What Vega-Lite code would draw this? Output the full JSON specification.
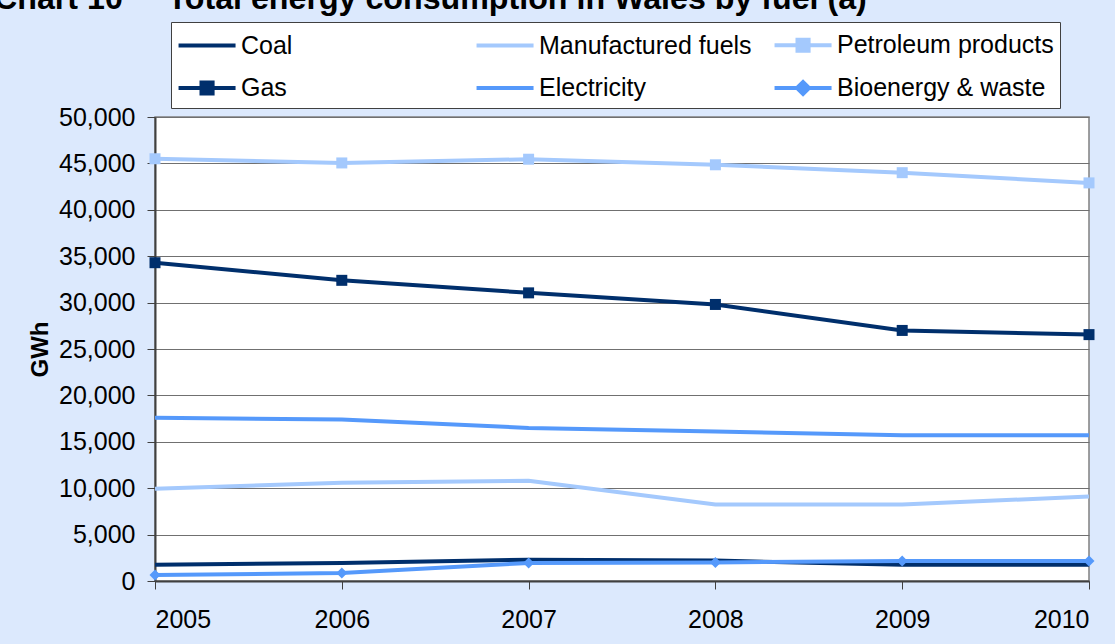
{
  "$schema": "https://vega.github.io/schema/vega-lite/v6.json",
  "width": 934,
  "height": 464,
  "autosize": {"type": "none"},
  "padding": {"left": 155, "top": 117, "right": 26, "bottom": 63},
  "background": "#dce9fd",
  "title": {
    "text": "Chart 10\u00a0\u00a0\u00a0\u00a0\u00a0Total energy consumption in Wales by fuel (a)",
    "orient": "top",
    "anchor": "start",
    "frame": "group",
    "font": "Liberation Sans",
    "fontSize": 32.2,
    "fontWeight": "bold",
    "color": "#000000",
    "baseline": "alphabetic",
    "dx": -161,
    "dy": 34,
    "offset": 14
  },
  "config": {
    "view": {"stroke": "#808080", "strokeWidth": 1.5, "fill": "#ffffff"},
    "axis": {
      "labelFont": "Liberation Sans",
      "labelFontSize": 25,
      "labelColor": "#000000",
      "titleFont": "Liberation Sans",
      "titleColor": "#000000",
      "tickColor": "#404040",
      "tickSize": 8,
      "domainColor": "#404040",
      "domainWidth": 2
    }
  },
  "data": {
    "values": [
      {"year": 2005, "fuel": "Coal", "gwh": 1750},
      {"year": 2006, "fuel": "Coal", "gwh": 1950},
      {"year": 2007, "fuel": "Coal", "gwh": 2300},
      {"year": 2008, "fuel": "Coal", "gwh": 2200},
      {"year": 2009, "fuel": "Coal", "gwh": 1750},
      {"year": 2010, "fuel": "Coal", "gwh": 1750},
      {"year": 2005, "fuel": "Manufactured fuels", "gwh": 9950},
      {"year": 2006, "fuel": "Manufactured fuels", "gwh": 10600},
      {"year": 2007, "fuel": "Manufactured fuels", "gwh": 10800},
      {"year": 2008, "fuel": "Manufactured fuels", "gwh": 8250},
      {"year": 2009, "fuel": "Manufactured fuels", "gwh": 8250},
      {"year": 2010, "fuel": "Manufactured fuels", "gwh": 9100},
      {"year": 2005, "fuel": "Petroleum products", "gwh": 45500},
      {"year": 2006, "fuel": "Petroleum products", "gwh": 45050},
      {"year": 2007, "fuel": "Petroleum products", "gwh": 45450},
      {"year": 2008, "fuel": "Petroleum products", "gwh": 44850},
      {"year": 2009, "fuel": "Petroleum products", "gwh": 44000},
      {"year": 2010, "fuel": "Petroleum products", "gwh": 42900},
      {"year": 2005, "fuel": "Gas", "gwh": 34300},
      {"year": 2006, "fuel": "Gas", "gwh": 32400},
      {"year": 2007, "fuel": "Gas", "gwh": 31050},
      {"year": 2008, "fuel": "Gas", "gwh": 29800},
      {"year": 2009, "fuel": "Gas", "gwh": 27000},
      {"year": 2010, "fuel": "Gas", "gwh": 26550},
      {"year": 2005, "fuel": "Electricity", "gwh": 17600},
      {"year": 2006, "fuel": "Electricity", "gwh": 17400},
      {"year": 2007, "fuel": "Electricity", "gwh": 16500},
      {"year": 2008, "fuel": "Electricity", "gwh": 16100},
      {"year": 2009, "fuel": "Electricity", "gwh": 15700},
      {"year": 2010, "fuel": "Electricity", "gwh": 15700},
      {"year": 2005, "fuel": "Bioenergy & waste", "gwh": 650},
      {"year": 2006, "fuel": "Bioenergy & waste", "gwh": 850},
      {"year": 2007, "fuel": "Bioenergy & waste", "gwh": 1950},
      {"year": 2008, "fuel": "Bioenergy & waste", "gwh": 2000},
      {"year": 2009, "fuel": "Bioenergy & waste", "gwh": 2150},
      {"year": 2010, "fuel": "Bioenergy & waste", "gwh": 2150}
    ]
  },
  "encoding": {
    "x": {
      "field": "year",
      "type": "quantitative",
      "scale": {"domain": [2005, 2010], "nice": false, "zero": false},
      "axis": {
        "title": null,
        "values": [2005, 2006, 2007, 2008, 2009, 2010],
        "format": "d",
        "grid": false,
        "labelPadding": 18
      }
    },
    "y": {
      "field": "gwh",
      "type": "quantitative",
      "scale": {"domain": [0, 50000], "nice": false},
      "axis": {
        "title": "GWh",
        "titleFontSize": 24,
        "titleFontWeight": "bold",
        "titleAngle": 270,
        "titleAlign": "center",
        "titleBaseline": "middle",
        "titleX": -115,
        "titleY": 232,
        "values": [0, 5000, 10000, 15000, 20000, 25000, 30000, 35000, 40000, 45000, 50000],
        "format": ",d",
        "labelPadding": 12,
        "grid": true,
        "gridColor": "#707070",
        "gridWidth": 1
      }
    },
    "color": {
      "field": "fuel",
      "type": "nominal",
      "scale": {
        "domain": ["Coal", "Manufactured fuels", "Petroleum products", "Gas", "Electricity", "Bioenergy & waste"],
        "range": ["#002f6c", "#a4c9fd", "#a4c9fd", "#002f6c", "#5599fb", "#5599fb"]
      },
      "legend": {
        "title": null,
        "orient": "none",
        "legendX": 16,
        "legendY": -95,
        "columns": 3,
        "direction": "horizontal",
        "gridAlign": "all",
        "fillColor": "#ffffff",
        "strokeColor": "#404040",
        "padding": 6,
        "columnPadding": 10,
        "rowPadding": 12,
        "symbolSize": 900,
        "symbolType": "M-1.03,0H2.77",
        "symbolStrokeWidth": 4,
        "symbolOpacity": 1,
        "labelFont": "Liberation Sans",
        "labelFontSize": 25,
        "labelColor": "#000000",
        "labelOffset": 30,
        "labelLimit": 600,
        "encode": {
          "symbols": {
            "update": {
              "shape": {"signal": "datum.value == 'Gas' || datum.value == 'Petroleum products' ? 'M-1.03,0H2.77M0.5,-0.37H1.24V0.37H0.5Z' : datum.value == 'Bioenergy & waste' ? 'M-1.03,0H2.77M0.47,0L0.87,-0.4L1.27,0L0.87,0.4Z' : 'M-1.03,0H2.77'"},
              "strokeWidth": {"signal": "datum.value == 'Bioenergy & waste' ? 2 : 4"},
              "fill": {"scale": "color", "field": "value"},
              "opacity": {"value": 1}
            }
          }
        }
      }
    }
  },
  "layer": [
    {
      "mark": {"type": "line", "strokeCap": "butt"},
      "encoding": {
        "strokeWidth": {
          "field": "fuel",
          "type": "nominal",
          "scale": {
            "domain": ["Coal", "Manufactured fuels", "Petroleum products", "Gas", "Electricity", "Bioenergy & waste"],
            "range": [4, 4, 4, 4, 4, 2]
          },
          "legend": null
        }
      }
    },
    {
      "transform": [
        {"filter": {"field": "fuel", "oneOf": ["Gas", "Petroleum products", "Bioenergy & waste"]}}
      ],
      "mark": {"type": "point", "filled": true, "opacity": 1},
      "encoding": {
        "shape": {
          "field": "fuel",
          "type": "nominal",
          "scale": {
            "domain": ["Gas", "Petroleum products", "Bioenergy & waste"],
            "range": ["square", "square", "diamond"]
          },
          "legend": null
        },
        "size": {
          "field": "fuel",
          "type": "nominal",
          "scale": {
            "domain": ["Gas", "Petroleum products", "Bioenergy & waste"],
            "range": [121, 121, 144]
          },
          "legend": null
        }
      }
    }
  ]
}
